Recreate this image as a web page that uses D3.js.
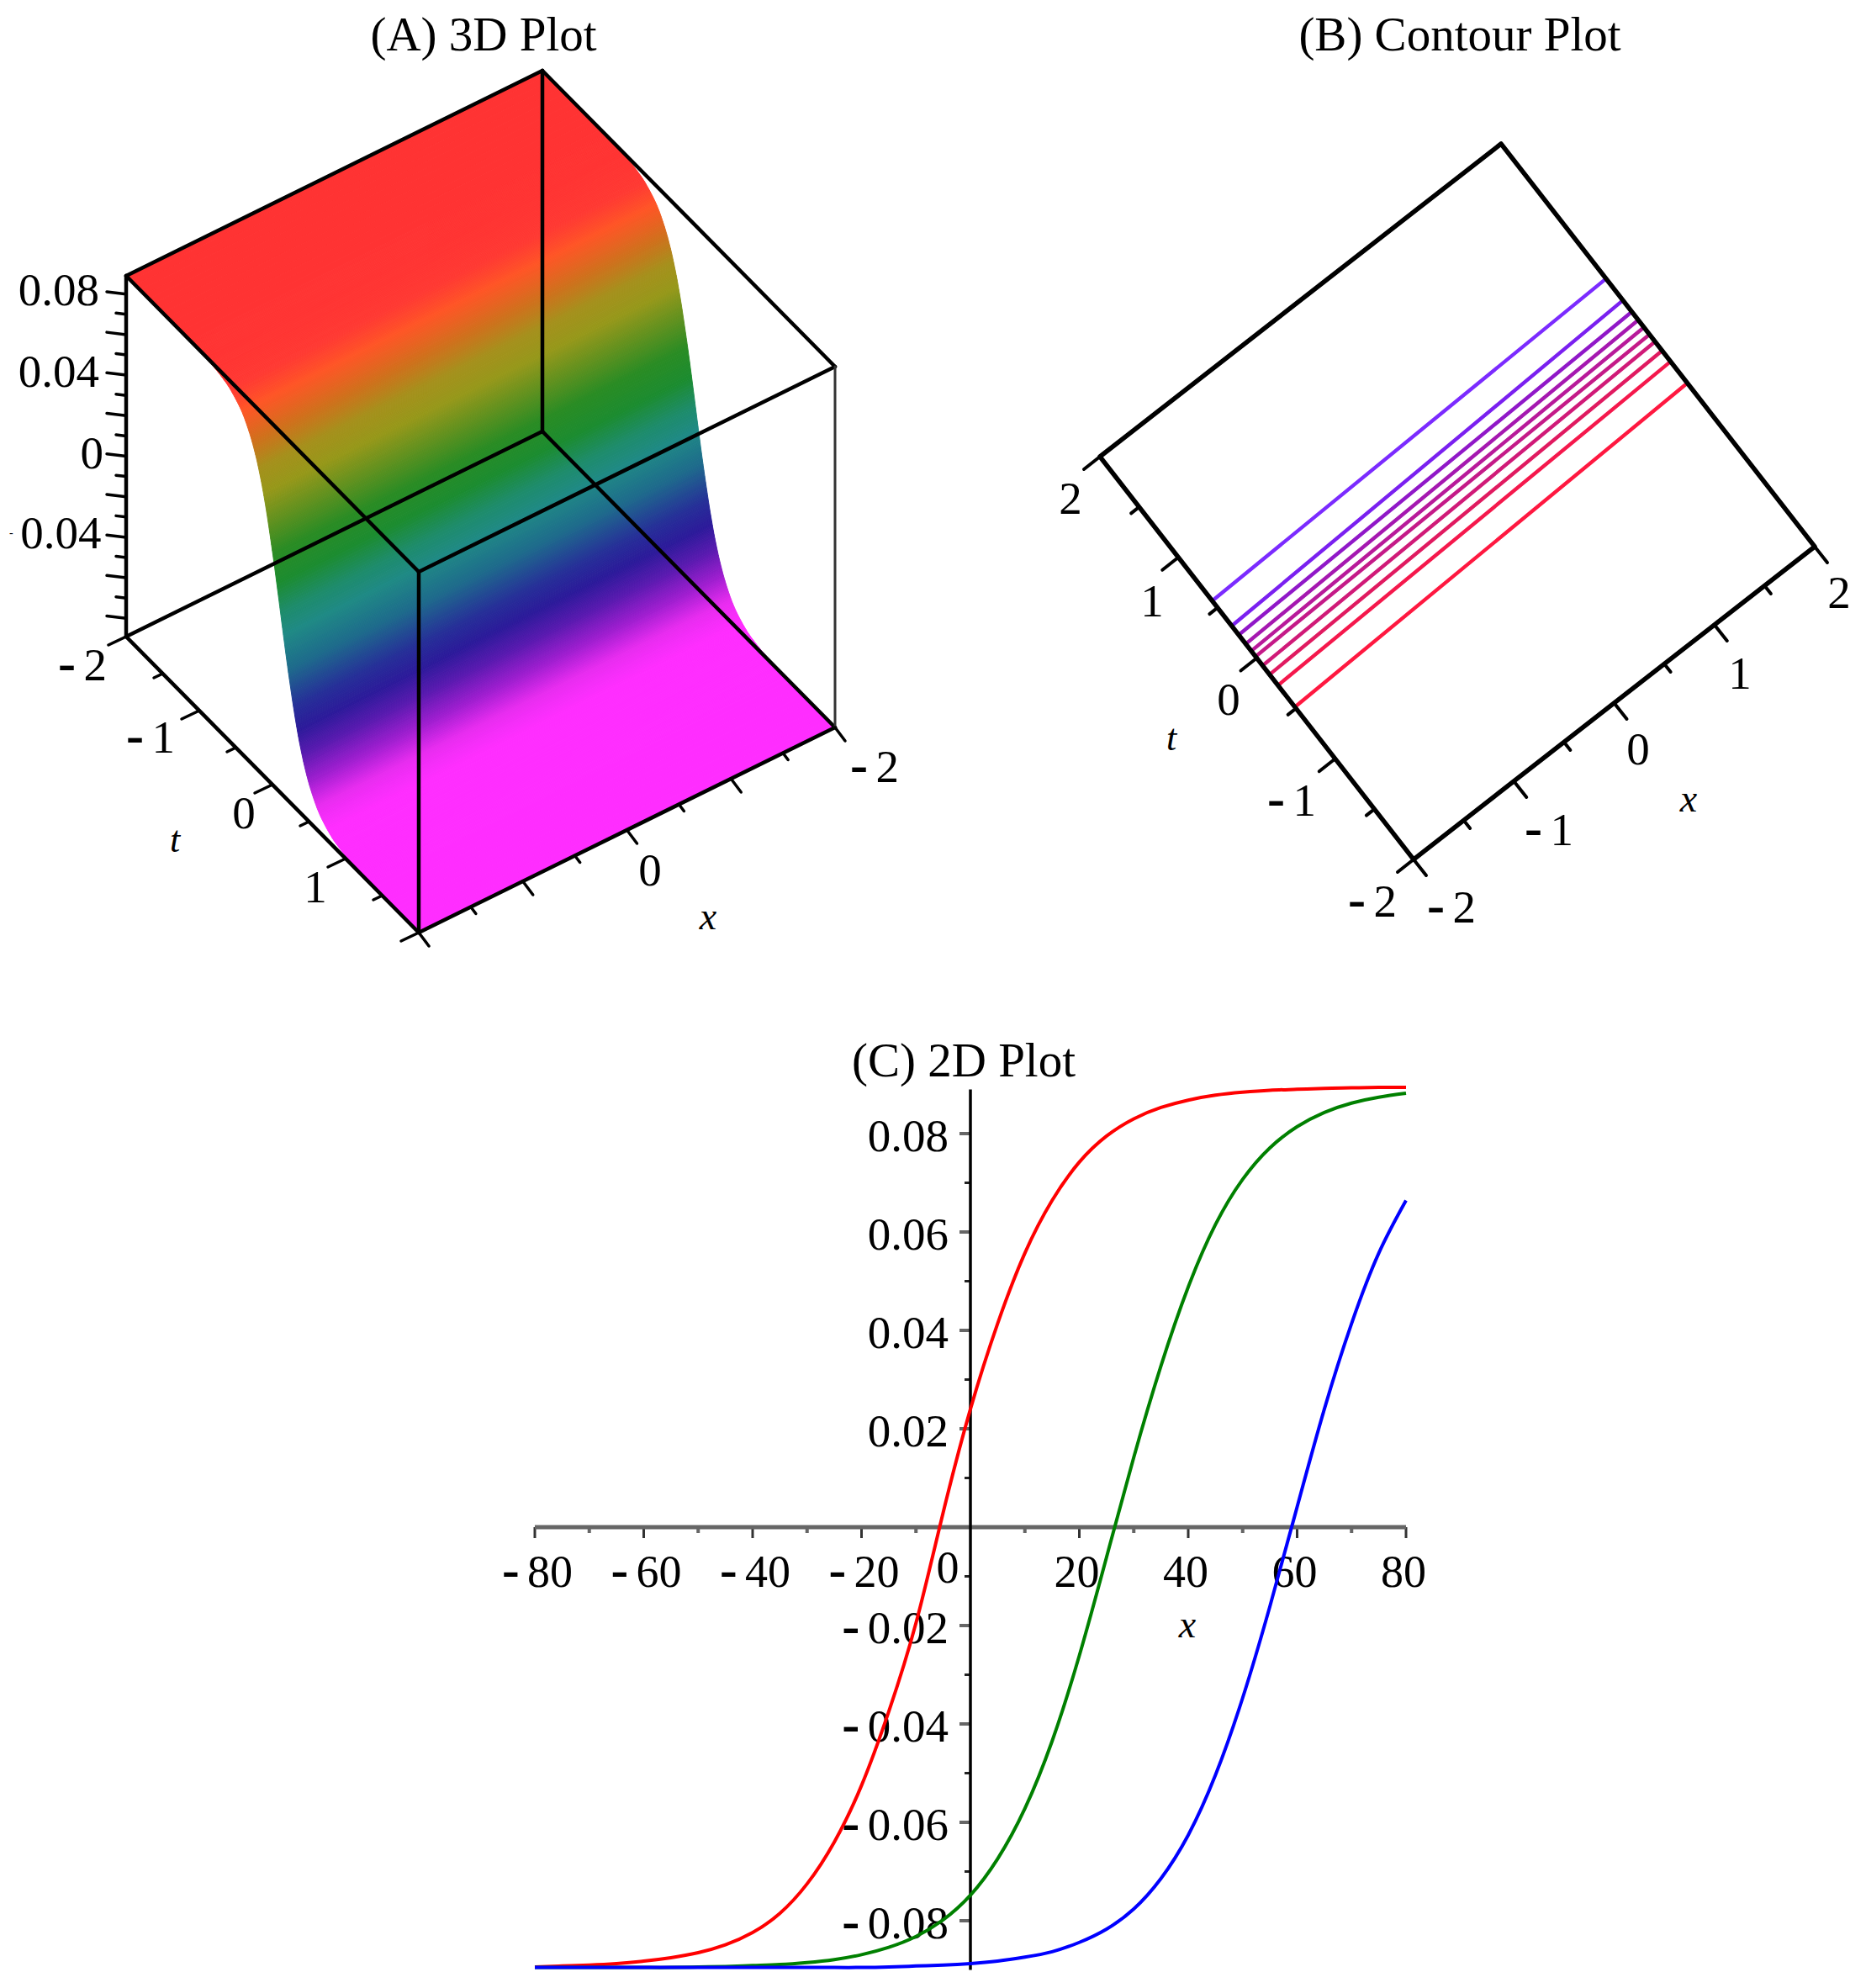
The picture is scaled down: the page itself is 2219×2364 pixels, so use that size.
<!DOCTYPE html>
<html><head><meta charset="utf-8">
<script src="https://cdn.jsdelivr.net/npm/d3@7"></script>
<style>html,body{margin:0;padding:0;background:#fff}svg{display:block}text{font-family:"Liberation Serif","Times New Roman",serif;fill:#000}</style>
</head><body><div id="chart"></div>
<script>
// ---------- data ----------
const curveX = [-80,-75,-70,-65,-60,-55,-50,-45,-40,-35,-30,-25,-20,-15,-10,-5,0,5,10,15,20,25,30,35,40,45,50,55,60,65,70,75,80];
const curveRed = [-.0894,-.0892,-.0890,-.0887,-.0882,-.0875,-.0865,-.0849,-.0824,-.0785,-.0725,-.0640,-.0525,-.0375,-.0195,.0030,.0240,.0414,.0557,.0664,.0742,.0795,.0830,.0853,.0868,.0878,.0884,.0888,.0890,.0892,.0893,.0894,.0894];
const curveGreen = [-.0895,-.0895,-.0895,-.0895,-.0895,-.0895,-.0894,-.0893,-.0891,-.0889,-.0885,-.0879,-.0869,-.0854,-.0832,-.0798,-.0748,-.0674,-.0572,-.0435,-.0261,-.0061,.0142,.0328,.0488,.0615,.0707,.0771,.0814,.0843,.0862,.0874,.0882];
const curveBlue = [-.0895,-.0895,-.0895,-.0895,-.0895,-.0895,-.0895,-.0895,-.0895,-.0895,-.0895,-.0895,-.0895,-.0894,-.0892,-.0890,-.0887,-.0882,-.0874,-.0863,-.0844,-.0817,-.0776,-.0714,-.0626,-.0504,-.0347,-.0161,.0041,.0240,.0414,.0557,.0664];
const xTicks2D = [-80,-70,-60,-50,-40,-30,-20,-10,10,20,30,40,50,60,70,80];
const yTicks2D = [-.08,-.07,-.06,-.05,-.04,-.03,-.02,-.01,.01,.02,.03,.04,.05,.06,.07,.08];

// surface height levels with the t where each is reached on the x=-2 and x=2 edges
const surfaceZ     = [.089,.0888,.0885,.088,.087,.085,.08,.0728,.065,.0566,.05,.0405,.0243,.0081,-.0081,-.0243,-.0405,-.05,-.0566,-.065,-.0728,-.08,-.085,-.087,-.088,-.0885,-.0888,-.089];
const surfaceTLeft = [-2,-1.15,-.98,-.85,-.725,-.595,-.443,-.33,-.248,-.183,-.141,-.089,-.012,.057,.123,.192,.269,.321,.363,.428,.51,.623,.775,.905,1.03,1.16,1.33,2];
const surfaceTRight= [-2,-1.13,-.96,-.83,-.705,-.575,-.423,-.31,-.228,-.163,-.121,-.069,.008,.077,.143,.212,.289,.341,.383,.448,.53,.643,.795,.925,1.05,1.18,1.35,2];
const surfaceColorZ = [.089,.085,.08,.07,.06,.05,.04,.025,.012,0,-.01,-.025,-.04,-.05,-.06,-.07,-.078,-.084,-.089];
const surfaceColors = ["#ff3333","#ff3a33","#ff5526","#d0701c","#a5901c","#96981a","#6a921e","#2a8c24","#1c8c30","#1e8c6a","#1f8a85","#1e6a8c","#263098","#2c1a9a","#5a1ab0","#a01ed0","#e82cf0","#ff2dff","#ff2dff"];

// contour lines
const contourTLeft  = [.568,.319,.23,.14,.07,.015,-.075,-.164,-.271,-.486];
const contourTRight = [.661,.446,.332,.25,.178,.107,.036,-.054,-.162,-.376];
const contourColors = ["#7b2bff","#7a20f0","#9018c8","#a518b0","#b81a9a","#c41a88","#d01a78","#e01a60","#f5184c","#ff1840"];

const axisUnits = [-2,-1.5,-1,-.5,0,.5,1,1.5,2];
const zTicks3D = [-.08,-.07,-.06,-.05,-.04,-.03,-.02,-.01,0,.01,.02,.03,.04,.05,.06,.07,.08];

// ---------- page ----------
const svg = d3.select("#chart").append("svg").attr("width",2219).attr("height",2364).attr("viewBox","0 0 2219 2364");
svg.append("rect").attr("width",2219).attr("height",2364).attr("fill","#fff");
const label = (g,x,y,s,size,anchor,italic) => {
  const t = g.append("text").attr("x",x).attr("y",y).attr("font-size",size)
    .attr("text-anchor",anchor||"middle").attr("font-style",italic?"italic":"normal");
  if (s[0]==="-") {
    t.append("tspan").attr("font-weight","bold").attr("font-size",size*1.15).text("-");
    t.append("tspan").attr("dx",size*0.17).text(s.slice(1));
  } else t.text(s);
  return t;
};
const seg = (g,a,b,w,c) => g.append("line").attr("x1",a[0]).attr("y1",a[1]).attr("x2",b[0]).attr("y2",b[1])
  .attr("stroke",c||"#000").attr("stroke-width",w).attr("stroke-linecap","round");
const isMajor = v => Math.abs(v-Math.round(v))<1e-9;
const poly = d3.line();

// ---------- (A) 3D plot ----------
const gA = svg.append("g");
const xA = d3.scaleLinear().domain([-2,2]).range([[645,513],[150,757]]);
const tA = d3.scaleLinear().domain([-2,2]).range([[0,0],[348,352]]);
const zA = d3.scaleLinear().domain([-.089,.089]).range([0,-429]);
const pA = (x,t,z) => { const a=xA(x), b=tA(t); return [a[0]+b[0], a[1]+b[1]+zA(z)]; };
const colorA = d3.scaleLinear().domain(surfaceColorZ).range(surfaceColors).clamp(true);
const steps = 14, nS = surfaceZ.length;
const smooth = (arr,i,u) => {
  if (i===0 || i===nS-2) return arr[i]+(arr[i+1]-arr[i])*u;
  const p1=arr[i], p2=arr[i+1];
  const p0=(i-1>=1)?arr[i-1]:2*p1-p2;
  const p3=(i+2<=nS-2)?arr[i+2]:2*p2-p1;
  return .5*(2*p1+(p2-p0)*u+(2*p0-5*p1+4*p2-p3)*u*u+(3*p1-p0-3*p2+p3)*u*u*u);
};
for (let i=0;i<nS-1;i++){
  for (let k=0;k<steps;k++){
    const f0=k/steps, f1=(k+1)/steps;
    const quad=[pA(-2,smooth(surfaceTLeft,i,f0),smooth(surfaceZ,i,f0)),pA(2,smooth(surfaceTRight,i,f0),smooth(surfaceZ,i,f0)),
                pA(2,smooth(surfaceTRight,i,f1),smooth(surfaceZ,i,f1)),pA(-2,smooth(surfaceTLeft,i,f1),smooth(surfaceZ,i,f1))];
    const col=colorA(smooth(surfaceZ,i,(f0+f1)/2));
    gA.append("path").attr("d",poly(quad)+"Z").attr("fill",col).attr("stroke",col).attr("stroke-width",1);
  }
}
const zTop=zA.domain()[1], zBot=zA.domain()[0];
[[[-2,-2,zTop],[2,-2,zTop]],[[-2,-2,zTop],[-2,2,zTop]],[[2,-2,zTop],[2,2,zTop]],[[-2,2,zTop],[2,2,zTop]],
 [[-2,-2,zBot],[2,-2,zBot]],[[-2,-2,zBot],[-2,2,zBot]],[[2,-2,zBot],[2,2,zBot]],[[-2,2,zBot],[2,2,zBot]],
 [[-2,-2,zTop],[-2,-2,zBot]],[[2,-2,zTop],[2,-2,zBot]],[[2,2,zTop],[2,2,zBot]]].forEach(e=>seg(gA,pA(...e[0]),pA(...e[1]),4.5));
seg(gA,pA(-2,2,zTop),pA(-2,2,zBot),3,"#333");
// z ticks
zTicks3D.forEach(v=>{ const p=pA(2,-2,v), maj=Math.abs(v*100%2)<1e-6;
  const L=maj?23:12; seg(gA,p,[p[0]-L,p[1]-L*0.12],3.5);});
// t ticks on the x=2 floor edge
axisUnits.forEach(v=>{ const p=pA(2,v,zBot), f=isMajor(v)?1:.5; seg(gA,p,[p[0]-21*f,p[1]+10*f],3.5);});
// x ticks on the t=2 floor edge
axisUnits.forEach(v=>{ const p=pA(v,2,zBot), f=isMajor(v)?1:.5; seg(gA,p,[p[0]+12*f,p[1]+16*f],3.5);});
[["0.08",118,363],["0.04",118,460],["0",123,557]].forEach(d=>label(gA,d[1],d[2],d[0],55,"end"));
// the minus of the lowest z label is all but cut away in the reference: it survives as a small dot
const cutLabel = gA.append("text").attr("x",11).attr("y",638).attr("font-size",14);
cutLabel.append("tspan").text("-");
cutLabel.append("tspan").attr("dx",8.5).attr("dy",14).attr("font-size",55).text("0.04");
[["-2",127,809,"end"],["-1",208,895,"end"],["0",290,985,"middle"],["1",375,1073,"middle"],["0",773,1053,"middle"],["-2",1069,930,"end"]]
  .forEach(d=>label(gA,d[1],d[2],d[0],55,d[3]));
label(gA,208,1013,"t",44,"middle",true);
label(gA,842,1105,"x",46,"middle",true);
label(gA,575,60,"(A) 3D Plot",57);

// ---------- (B) contour plot ----------
const gB = svg.append("g");
const xB = d3.scaleLinear().domain([-2,2]).range([[1681,1022],[2158,650]]);
const tB = d3.scaleLinear().domain([-2,2]).range([[0,0],[-373,-479]]);
const pB = (x,t) => { const a=xB(x), b=tB(t); return [a[0]+b[0], a[1]+b[1]]; };
contourTLeft.forEach((tl,i)=>seg(gB,pB(-2,tl),pB(2,contourTRight[i]),4.4,contourColors[i]));
gB.append("path").attr("d",poly([pB(-2,-2),pB(2,-2),pB(2,2),pB(-2,2)])+"Z").attr("fill","none").attr("stroke","#000").attr("stroke-width",5.5).attr("stroke-linejoin","round");
axisUnits.forEach(v=>{ const p=pB(-2,v), f=isMajor(v)?1:.5; seg(gB,p,[p[0]-19*f,p[1]+15*f],4);});
axisUnits.forEach(v=>{ const p=pB(v,-2), f=isMajor(v)?1:.5; seg(gB,p,[p[0]+15*f,p[1]+19*f],4);});
[["2",1273,611,"middle"],["1",1370,733,"middle"],["0",1461,850,"middle"],["-1",1565,970,"end"],["-2",1661,1090,"end"],
 ["-2",1755,1097,"end"],["-1",1871,1005,"end"],["0",1948,909,"middle"],["1",2069,819,"middle"],["2",2187,723,"middle"]]
  .forEach(d=>label(gB,d[1],d[2],d[0],55,d[3]));
label(gB,1393,892,"t",44,"middle",true);
label(gB,2008,965,"x",46,"middle",true);
label(gB,1736,60,"(B) Contour Plot",57);

// ---------- (C) 2D plot ----------
const gC = svg.append("g");
const xC = d3.scaleLinear().domain([-80,80]).range([636,1672]);
const yC = d3.scaleLinear().domain([-.0895,.0895]).range([2339.6,1292.4]);
xTicks2D.forEach(v=>{ const maj=v%20===0;
  gC.append("line").attr("x1",xC(v)).attr("x2",xC(v)).attr("y1",yC(0)).attr("y2",yC(0)+(maj?13:7)).attr("stroke",maj?"#333":"#666").attr("stroke-width",maj?3:4);
  if(maj){ label(gC,xC(v)+(v<0?3:-3),1887,""+v,54); }
});
yTicks2D.forEach(v=>{ const maj=Math.abs(v*100%2)<1e-6;
  gC.append("line").attr("x1",xC(0)).attr("x2",xC(0)-(maj?13:7)).attr("y1",yC(v)).attr("y2",yC(v)).attr("stroke",maj?"#666":"#222").attr("stroke-width",maj?4:3);
  if(maj){ label(gC,1128,yC(v)+21,v.toFixed(2),55,"end"); }
});
label(gC,1127,1882,"0",54);
label(gC,1412,1947,"x",46,"middle",true);
gC.append("line").attr("x1",xC(-80)).attr("x2",xC(80)).attr("y1",yC(0)).attr("y2",yC(0)).attr("stroke","#666").attr("stroke-width",5);
gC.append("line").attr("x1",xC(0)).attr("x2",xC(0)).attr("y1",yC.range()[1]+3).attr("y2",yC.range()[0]+3).attr("stroke","#000").attr("stroke-width",3.5);
const lineC = d3.line().x(d=>xC(d[0])).y(d=>yC(d[1])).curve(d3.curveNatural);
[[curveRed,"#ff0000"],[curveGreen,"#008000"],[curveBlue,"#0000ff"]].forEach(([vals,c])=>{
  gC.append("path").attr("d",lineC(vals.map((v,i)=>[curveX[i],v]))).attr("fill","none").attr("stroke",c).attr("stroke-width",4);
});
label(gC,1146,1280,"(C) 2D Plot",57);
</script></body></html>
